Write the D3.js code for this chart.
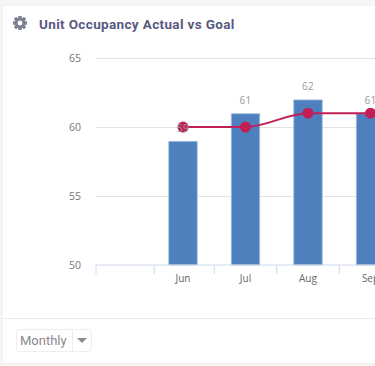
<!DOCTYPE html>
<html>
<head>
<meta charset="utf-8">
<script src="https://d3js.org/d3.v7.min.js"></script>
<style>
html, body { margin: 0; padding: 0; background: #f6f6f6; overflow: hidden; }
text { font-family: "Open Sans", sans-serif; }
</style>
</head>
<body>
<svg id="chart" width="375" height="366"></svg>
<script>
const months = ['Jun', 'Jul', 'Aug', 'Sep'];
const actual = [59, 61, 62, 61];
const goal = [60, 60, 61, 61];
const yTicks = [50, 55, 60, 65];
const title = 'Unit Occupancy Actual vs Goal';
const periodLabel = 'Monthly';

const svg = d3.select('#chart');
const width = 375;

// card
svg.append('rect').attr('x', 2).attr('y', 5).attr('width', 380).attr('height', 359)
    .attr('fill', '#fff').attr('stroke', '#ececec');
svg.append('line').attr('x1', 2).attr('x2', width).attr('y1', 318.5).attr('y2', 318.5)
    .attr('stroke', '#ececec');

// gear icon
const gear = svg.append('g').attr('transform', 'translate(20,23)').attr('fill', '#7d8093');
gear.selectAll('rect').data(d3.range(8)).join('rect')
    .attr('x', -1.5).attr('y', -7).attr('width', 3).attr('height', 14)
    .attr('transform', d => `rotate(${d * 45})`);
gear.append('path')
    .attr('d', d3.arc()({innerRadius: 2.4, outerRadius: 5.4, startAngle: 0, endAngle: 2 * Math.PI}));
gear.append('circle').attr('r', 2.4).attr('fill', '#fff');

svg.append('text').attr('x', 39).attr('y', 28.5)
    .attr('font-size', 13.5).attr('font-weight', 700).attr('fill', '#575a80')
    .attr('letter-spacing', 0.35)
    .style('font-family', 'Roboto, sans-serif')
    .text(title);

const x = d3.scaleLinear().domain([0, 3]).range([183, 370.5]);
const y = d3.scaleLinear().domain([50, 65]).range([265, 58]);
const barWidth = 28.5;

// y grid and labels
const yAxis = svg.append('g').attr('transform', 'translate(96,0)')
    .call(d3.axisLeft(y).tickValues(yTicks).tickSize(0).tickPadding(15))
    .call(g => g.select('.domain').remove());
yAxis.selectAll('text').attr('font-size', 10.5).attr('fill', '#777')
    .style('font-family', '"Open Sans", sans-serif');
yAxis.selectAll('.tick line').attr('x2', width - 96).attr('stroke', '#e2e2e2');
yAxis.selectAll('.tick').filter(d => d === 50).select('line').remove();

// bars
svg.append('g').selectAll('rect').data(actual).join('rect')
    .attr('x', (d, i) => x(i) - barWidth / 2)
    .attr('y', d => y(d) + 0.5)
    .attr('width', barWidth)
    .attr('height', d => y(50) - y(d) - 0.5)
    .attr('fill', '#4e80bd')
    .attr('stroke', '#a9c3e2')
    .attr('stroke-width', 0.8);

// x axis, ticks sit between the months; the first one is at the start of the blank slot
const axisStart = x.invert(96);
const tickPos = [axisStart, -0.46, 0.5, 1.5, 2.5];
const xAxis = svg.append('g').attr('transform', 'translate(0,265)');
xAxis.append('line').attr('x1', x(axisStart)).attr('x2', width)
    .attr('stroke', '#cfd9e8');
xAxis.selectAll('line.tick').data(tickPos).join('line')
    .attr('class', 'tick')
    .attr('x1', d => x(d)).attr('x2', d => x(d))
    .attr('y1', 0).attr('y2', 9)
    .attr('stroke', '#cfd9e8');
xAxis.selectAll('text').data(months).join('text')
    .attr('x', (d, i) => x(i))
    .attr('y', 17)
    .attr('text-anchor', 'middle')
    .attr('font-size', 10)
    .attr('fill', '#666')
    .text(d => d);

// goal line
const line = d3.line()
    .x((d, i) => x(i))
    .y(d => y(d))
    .curve(d3.curveMonotoneX);
svg.append('path').datum(goal)
    .attr('d', line)
    .attr('fill', 'none')
    .attr('stroke', '#c21f56')
    .attr('stroke-width', 2);
svg.append('g').selectAll('circle').data(goal).join('circle')
    .attr('cx', (d, i) => x(i))
    .attr('cy', d => y(d))
    .attr('r', 5.5)
    .attr('fill', '#c21f56');

// value labels
svg.append('g').selectAll('text').data(actual).join('text')
    .attr('x', (d, i) => x(i))
    .attr('y', d => y(d) - 9)
    .attr('text-anchor', 'middle')
    .attr('font-size', 10)
    .attr('letter-spacing', 0.3)
    .attr('fill', '#999')
    .text(d => d);

// period dropdown
const drop = svg.append('g');
drop.append('rect').attr('x', 16.5).attr('y', 329.5).attr('width', 75).attr('height', 22).attr('rx', 3)
    .attr('fill', '#fff').attr('stroke', '#eeeeee');
drop.append('line').attr('x1', 72.5).attr('x2', 72.5).attr('y1', 330).attr('y2', 351).attr('stroke', '#eeeeee');
drop.append('text').attr('x', 20).attr('y', 345).attr('font-size', 13).attr('fill', '#8a8a8a')
    .style('font-family', 'Roboto, sans-serif').text(periodLabel);
drop.append('path').attr('d', 'M77,338H87L82,343Z').attr('fill', '#8a8a8a');
</script>
</body>
</html>
